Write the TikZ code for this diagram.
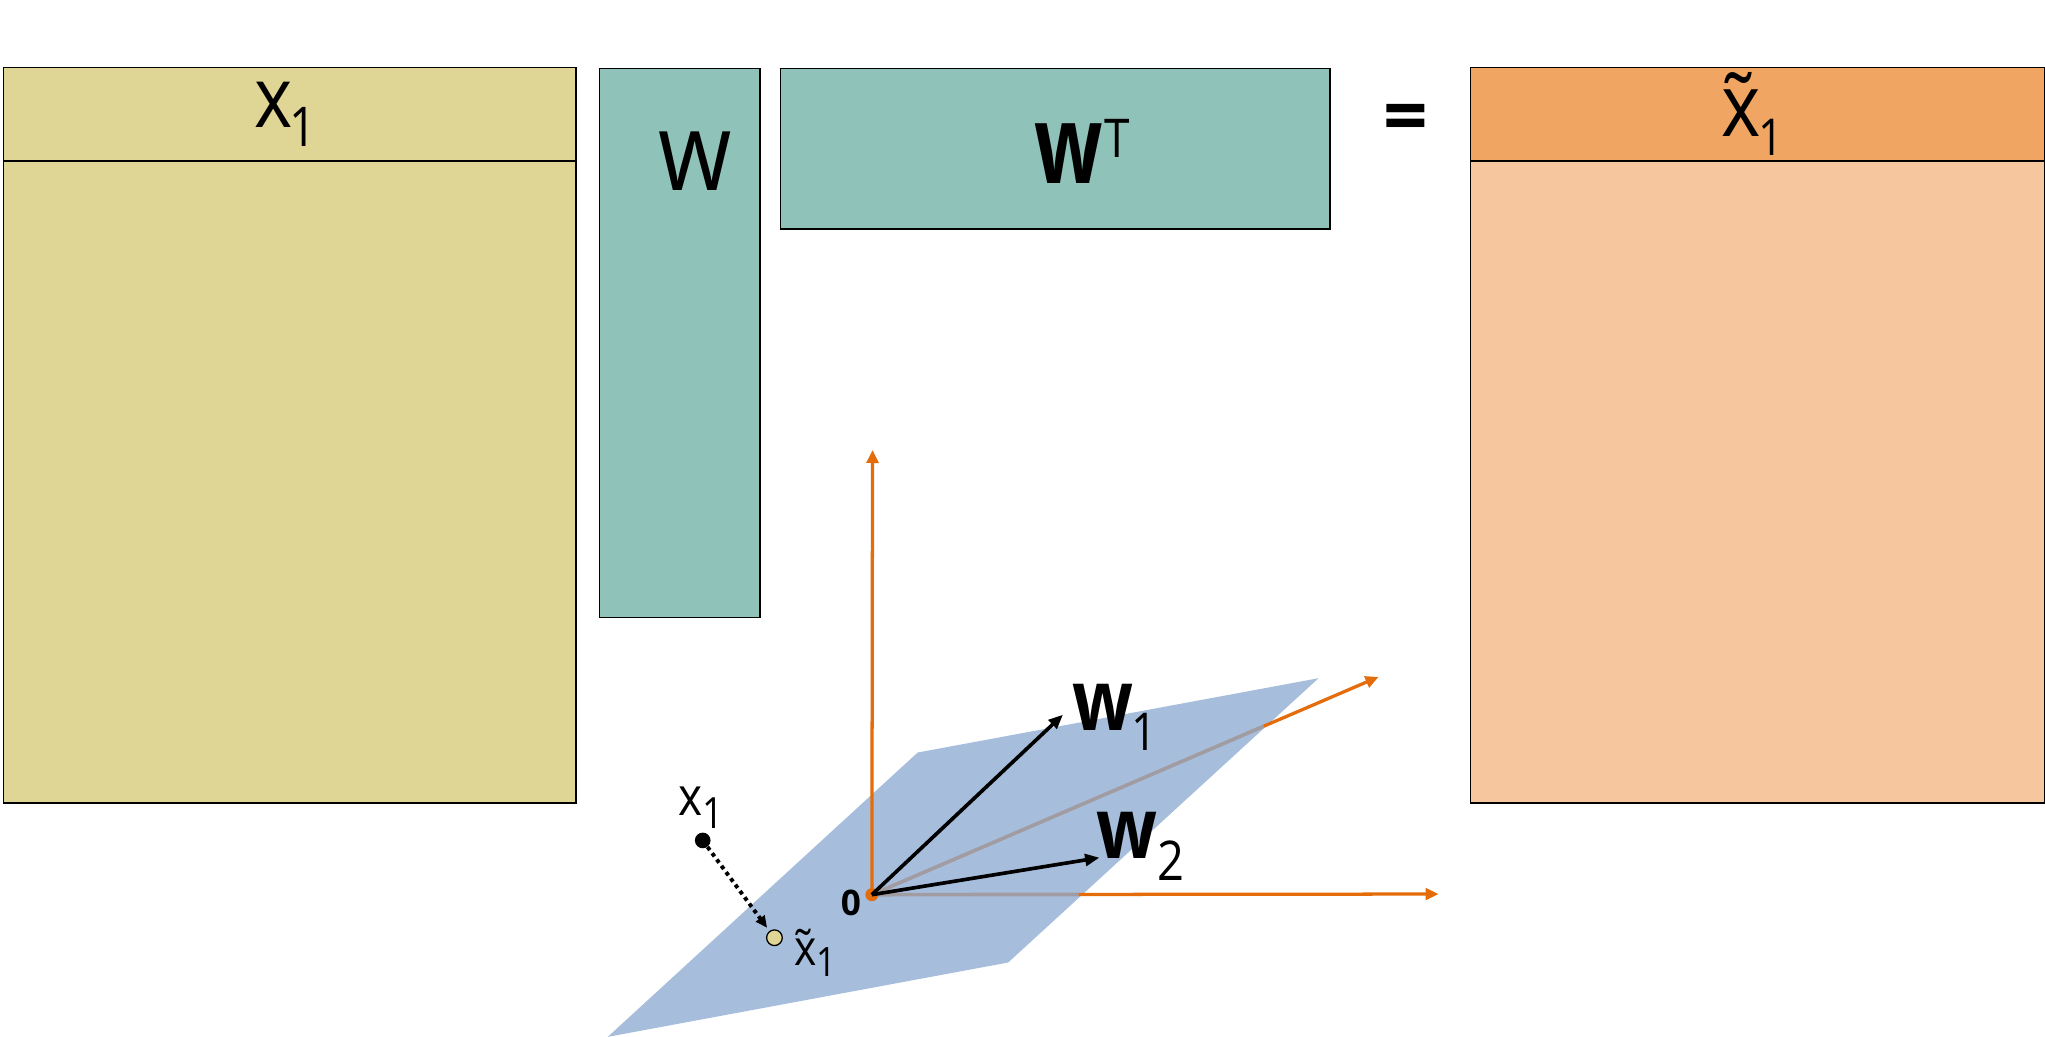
\documentclass[tikz,border=0pt]{standalone}
\usepackage{fontspec}
\setmainfont{Open Sans}
\newfontfamily\fR[FakeStretch=0.86]{Open Sans}
\newfontfamily\fB[FakeStretch=0.84]{Open Sans}
\newfontfamily\fBn[FakeStretch=0.73]{Open Sans}
\newfontfamily\fZ{Open Sans}
\usetikzlibrary{arrows.meta}
\newcommand\fs[1]{\fontsize{#1}{#1}\selectfont}
\definecolor{xyel}{HTML}{DFD696}
\definecolor{teal}{HTML}{8FC2B9}
\definecolor{orhead}{HTML}{F0A562}
\definecolor{orbody}{HTML}{F6C79F}
\definecolor{planec}{HTML}{A6BEDC}
\definecolor{axisor}{HTML}{E46C0A}
\definecolor{axgray}{HTML}{A09CA2}
\begin{document}
\begin{tikzpicture}[x=1pt,y=-1pt,
  box/.style={draw=black, line width=1.2pt, inner sep=0pt, anchor=north west},
  lbl/.style={inner sep=0pt, anchor=base},
  axis/.style={draw=axisor, line width=2.5pt, -{Triangle[length=10pt,width=9pt]}},
  axisgray/.style={draw=axgray, line width=2.8pt},
  vec/.style={draw=black, line width=2.8pt, -{Triangle[length=11pt,width=9pt]}},
  dotarrow/.style={draw=black, line width=3pt, dash pattern=on 3pt off 3pt, -{Triangle[length=9pt,width=8pt]}, shorten >=3pt},
  pt/.style={circle, inner sep=0pt, minimum size=12pt}]
\useasboundingbox (0,0) rectangle (1568,795);
\fill[white] (0,0) rectangle (1568,795);
% matrices
\node[box, fill=xyel, minimum width=439pt, minimum height=564pt] (X) at (2,51) {};
\node[box, fill=xyel, minimum width=439pt, minimum height=72pt] (Xh) at (2,51) {};
\node[box, fill=teal, minimum width=123pt, minimum height=421pt] (W) at (459,52) {};
\node[box, fill=teal, minimum width=421pt, minimum height=123pt] (WT) at (598,52) {};
\node[box, fill=orbody, minimum width=440pt, minimum height=564pt] (Y) at (1127,51) {};
\node[box, fill=orhead, minimum width=440pt, minimum height=72pt] (Yh) at (1127,51) {};
% matrix labels
\node[lbl] (lx) at (218.8,97.7) {\fR\fs{65}x\kern-2pt\raisebox{-15pt}{\fs{42}1}};
\node[lbl] (lw) at (533.2,146) {\fR\fs{84}w};
\node[lbl] (lwt) at (829.9,140.6) {\fBn\bfseries\fs{84}w\kern1pt\raisebox{20pt}{\fR\mdseries\fs{41}T}};
\node[lbl] (leq) at (1078,110) {\fZ\bfseries\fs{60}=};
\node[lbl] (ly) at (1344,105) {\fR\fs{67}x̃\kern-2pt\raisebox{-14pt}{\fs{39}1}};
% 3D sketch
\coordinate (O) at (668.5,686);
\coordinate (Az) at (669,345);
\coordinate (Ad) at (1057,519);
\coordinate (Ah) at (1103,685.5);
\coordinate (Pd) at (969,556.8);
\coordinate (Ph) at (827,685.8);
\coordinate (W1) at (815,548);
\coordinate (W2) at (843,657.6);
\fill[planec] (466,795) -- (703.6,577) -- (1011,520) -- (773,738) -- cycle;
\draw[axisgray] (O) -- (Pd);
\draw[axisgray] (O) -- (Ph);
\draw[axis] (Pd) -- (Ad);
\draw[axis] (Ph) -- (Ah);
\draw[axis] (O) -- (Az);
\fill[axisor] (O) circle (5);
\draw[vec] (O) -- (W1);
\draw[vec] (O) -- (W2);
\node[pt, fill=black] (x1) at (538.8,644.4) {};
\node[pt, fill=xyel, draw=black, line width=1pt] (xt1) at (593.8,719) {};
\draw[dotarrow] (x1) -- (xt1);
\node[lbl] (lw1) at (854.8,559.8) {\fB\bfseries\fs{65}w\kern-1pt\raisebox{-15.4pt}{\fR\mdseries\fs{40}1}};
\node[lbl] (lw2) at (874.8,658.3) {\fB\bfseries\fs{65}w\raisebox{-16.5pt}{\fR\mdseries\fs{42}2}};
\node[lbl] (lx1) at (537.3,625) {\fR\fs{41}x\raisebox{-10pt}{\fs{33}1}};
\node[lbl] (lxt1) at (625.2,740) {\fR\fs{38}x̃\raisebox{-9pt}{\fs{31}1}};
\node[lbl] (l0) at (652.5,701.7) {\fZ\bfseries\fs{27}0};
\end{tikzpicture}
\end{document}
